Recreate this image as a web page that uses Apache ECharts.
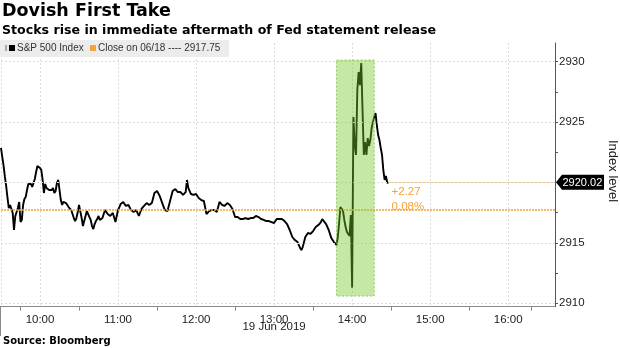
<!DOCTYPE html>
<html>
<head>
<meta charset="utf-8">
<script src="https://cdn.jsdelivr.net/npm/echarts@6/dist/echarts.min.js"></script>
<style>
  html, body { margin: 0; padding: 0; background: #fff; }
  #chart { width: 620px; height: 348px; }
</style>
</head>
<body>
<div id="chart"></div>
<script>
// S&P 500 intraday, 19 Jun 2019 (FOMC statement at 14:00)
const day = '2019-06-19 ';
const times = [
  '09:30','09:31','09:32','09:33','09:34','09:35','09:36','09:37','09:38','09:39',
  '09:40','09:41','09:42','09:43','09:44','09:45','09:46','09:47','09:48','09:49',
  '09:50','09:51','09:52','09:53','09:54','09:55','09:56','09:57','09:58','09:59',
  '10:00','10:01','10:02','10:03','10:04','10:05','10:06','10:07','10:08','10:09',
  '10:10','10:11','10:12','10:13','10:14','10:15','10:16','10:17','10:18','10:19',
  '10:20','10:21','10:22','10:23','10:24','10:25','10:26','10:27','10:28','10:29',
  '10:30','10:31','10:32','10:33','10:34','10:35','10:36','10:37','10:38','10:39',
  '10:40','10:41','10:42','10:43','10:44','10:45',
  '10:46','10:48','10:50','10:52','10:54','10:56','10:58','11:00','11:02','11:04',
  '11:06','11:08','11:10','11:12','11:14','11:16','11:18','11:20','11:22','11:24',
  '11:26','11:28','11:30','11:32','11:34','11:36','11:38','11:40','11:42','11:44',
  '11:46','11:48','11:50','11:52','11:53','11:54','11:56','11:58','12:00','12:02',
  '12:04','12:06','12:08','12:10','12:12','12:14','12:16','12:18','12:20','12:22',
  '12:24','12:26','12:28','12:30','12:32','12:34','12:36','12:38','12:40','12:42',
  '12:44','12:46','12:48','12:50','12:52','12:54','12:56','12:58','13:00','13:02',
  '13:04','13:06','13:08','13:10','13:12','13:14','13:16','13:18','13:20','13:21',
  '13:22','13:24','13:26','13:28','13:30','13:32','13:34','13:36','13:37','13:38',
  '13:40','13:42','13:44','13:46','13:48','13:49','13:50','13:51','13:52','13:53',
  '13:54','13:55','13:56','13:57','13:58','13:59','14:00','14:01','14:02','14:03',
  '14:04','14:05','14:06','14:07','14:08','14:09','14:10','14:11','14:12','14:13',
  '14:14','14:15','14:16','14:17','14:18','14:19','14:20','14:21','14:22','14:23',
  '14:24','14:25','14:26','14:27','14:28'
];
const spx = [
  2922.86,2922.11,2921.37,2920.46,2919.71,2918.72,2917.89,2918.14,2918.30,2917.48,
  2916.07,2917.23,2917.23,2917.89,2918.39,2916.73,2916.90,2918.14,2918.63,2918.80,
  2919.38,2919.88,2919.96,2919.88,2919.63,2919.96,2920.29,2920.87,2921.37,2921.53,
  2921.20,2921.03,2920.21,2919.13,2919.88,2919.55,2919.63,2919.38,2919.38,2919.38,
  2919.55,2919.13,2919.30,2919.96,2920.21,2919.38,2918.55,2918.14,2918.39,2918.55,
  2918.30,2918.39,2917.97,2918.06,2917.72,2917.39,2917.06,2916.81,2917.06,2917.56,
  2918.14,2918.06,2917.06,2916.40,2916.48,2917.23,2917.64,2917.39,2917.14,2916.90,
  2916.40,2916.15,2916.56,2916.81,2916.98,2917.23,
  2916.90,2917.06,2917.72,2917.39,2917.23,2917.48,2916.73,2917.72,2918.22,2918.39,
  2918.06,2918.14,2917.72,2917.56,2917.72,2917.23,2917.81,2918.06,2918.30,2918.14,
  2918.30,2919.13,2919.30,2918.89,2918.30,2917.72,2917.64,2918.47,2919.30,2919.46,
  2919.21,2919.21,2918.97,2919.21,2920.21,2919.55,2919.05,2918.97,2919.05,2918.72,
  2918.55,2918.47,2917.39,2917.64,2917.72,2917.72,2917.56,2918.39,2918.14,2918.06,
  2918.30,2918.14,2917.81,2917.14,2917.14,2916.98,2916.98,2917.06,2916.98,2917.06,
  2917.06,2917.23,2917.14,2916.98,2916.90,2916.81,2916.81,2916.73,2916.65,2916.98,
  2916.98,2916.98,2916.81,2916.56,2916.07,2915.49,2915.24,2915.07,2914.58,2914.41,
  2914.66,2915.49,2915.82,2915.74,2915.98,2916.31,2916.48,2916.73,2916.98,2916.98,
  2916.56,2916.07,2915.40,2915.07,2914.83,2915.49,2916.65,2917.97,2918.06,2917.64,
  2916.90,2916.31,2915.90,2915.74,2915.57,2917.31,2911.30,2925.42,2923.10,2922.28,
  2927.66,2929.15,2928.06,2929.89,2926.00,2922.28,2923.35,2922.28,2923.68,2923.02,
  2923.52,2924.51,2925.01,2925.42,2925.75,2924.76,2923.93,2923.52,2922.86,2922.28,
  2921.03,2920.21,2920.54,2919.96,2920.02
];
const prevClose = 2917.75;
const prevCloseDate = '06/18';
const yTicks = [2910, 2915, 2920, 2925, 2930];
const yMinorTicks = [2912.5, 2917.5, 2922.5, 2927.5];
const fedWindow = ['13:48', '14:17'];
const fedBand = [2910.6, 2930.14];

const ORANGE = '#f2a33a';
const FONT = 'Liberation Sans, Arial, sans-serif';
const HEAD_FONT = 'DejaVu Sans, Liberation Sans, sans-serif';

const chart = echarts.init(document.getElementById('chart'), null, { renderer: 'canvas' });
const seriesData = times.map((t, i) => [day + t, spx[i]]);
const lastT = day + times[times.length - 1];
const last = spx[spx.length - 1];
const xMax = day + '16:36';
const change = last - prevClose;
const pct = change / prevClose * 100;

chart.setOption({
  animation: false,
  grid: { left: 1, right: 65, top: 43, bottom: 41.3, containLabel: false },
  xAxis: {
    type: 'time',
    min: day + '09:30',
    max: xMax,
    minInterval: 3600 * 1000,
    maxInterval: 3600 * 1000,
    axisLine: { show: true, lineStyle: { color: '#8a8a8a', width: 1 } },
    axisTick: { show: false },
    minorTick: { show: true, splitNumber: 2, length: 4, lineStyle: { color: '#8a8a8a' } },
    axisLabel: {
      formatter: '{HH}:{mm}', color: '#222', fontSize: 11.5, fontFamily: FONT, margin: 7,
      showMinLabel: false, showMaxLabel: false
    },
    splitLine: { show: true, lineStyle: { color: '#dcdcdc', type: [2, 2] } }
  },
  yAxis: {
    type: 'value',
    position: 'right',
    min: 2909.72,
    max: 2931.55,
    scale: true,
    axisLine: { show: true, lineStyle: { color: '#555', width: 1 } },
    axisTick: { show: true, customValues: yTicks.concat(yMinorTicks), length: 3, lineStyle: { color: '#555' } },
    axisLabel: { customValues: yTicks, formatter: v => String(v), color: '#222', fontSize: 11.5, fontFamily: FONT, margin: 4 },
    splitLine: { show: false }
  },
  series: [
    {
      name: 'S&P 500 Index',
      type: 'line',
      data: seriesData,
      showSymbol: false,
      symbol: 'none',
      lineStyle: { color: '#000', width: 1.9 },
      z: 3,
      markLine: {
        silent: true,
        symbol: 'none',
        label: { show: false },
        data: [
          [{ coord: [lastT, last] }, { coord: [xMax, last] }]
        ],
        lineStyle: { color: '#f7c27e', type: 'solid', width: 1 }
      },
      markPoint: {
        silent: true,
        symbol: 'circle',
        symbolSize: 0,
        data: [{ coord: [lastT, last] }],
        label: {
          show: true,
          position: [3, 2],
          align: 'left',
          verticalAlign: 'top',
          color: ORANGE,
          fontSize: 11.5,
          fontFamily: FONT,
          lineHeight: 15,
          formatter: () => (change >= 0 ? '+' : '') + change.toFixed(2) + '\n' + pct.toFixed(2) + '%'
        }
      }
    },
    {
      // horizontal grid and previous close reference
      type: 'line',
      data: [],
      silent: true,
      z: 1,
      markLine: {
        silent: true,
        symbol: 'none',
        label: { show: false },
        data: yTicks.map(v => ({ yAxis: v, lineStyle: { color: '#dcdcdc', type: [2, 2], width: 1 } }))
          .concat([{ yAxis: prevClose, lineStyle: { color: ORANGE, type: [2, 1], width: 1.5 } }])
      }
    }
  ]
});

const toPx = (t, v) => chart.convertToPixel({ gridIndex: 0 }, [t, v]);

// statement release window, laid over the price line
const boxTL = toPx(day + fedWindow[0], fedBand[1]);
const boxBR = toPx(day + fedWindow[1], fedBand[0]);

// current-level tag on the value axis
const tagY = toPx(lastT, last)[1];
const axisX = toPx(xMax, last)[0];

chart.setOption({
  graphic: [
    {
      type: 'rect', z: 100,
      shape: { x: boxTL[0], y: boxTL[1], width: boxBR[0] - boxTL[0], height: boxBR[1] - boxTL[1] },
      style: { fill: 'rgba(118, 200, 40, 0.42)', stroke: 'rgba(120, 190, 60, 0.75)', lineWidth: 1, lineDash: [2, 2] }
    },
    { type: 'text', left: 2, top: 2, style: { text: 'Dovish First Take', font: 'bold 17.5px ' + HEAD_FONT, fill: '#000' } },
    { type: 'text', left: 2, top: 24, style: { text: 'Stocks rise in immediate aftermath of Fed statement release', font: 'bold 12.6px ' + HEAD_FONT, fill: '#000' } },
    // legend box
    { type: 'rect', z: 110, shape: { x: 0, y: 40, width: 229, height: 17 }, style: { fill: '#ececec' } },
    { type: 'rect', z: 111, shape: { x: 5, y: 45, width: 2, height: 6 }, style: { fill: '#aaa' } },
    { type: 'rect', z: 111, shape: { x: 9, y: 45, width: 6, height: 6 }, style: { fill: '#000' } },
    { type: 'text', z: 111, x: 17, y: 48.5, style: { text: 'S&P 500 Index', font: '10px ' + FONT, fill: '#333', verticalAlign: 'middle' } },
    { type: 'rect', z: 111, shape: { x: 90, y: 45, width: 6, height: 6 }, style: { fill: ORANGE } },
    { type: 'text', z: 111, x: 98, y: 48.5, style: { text: 'Close on ' + prevCloseDate + ' ---- ' + prevClose.toFixed(2), font: '10px ' + FONT, fill: '#333', verticalAlign: 'middle' } },
    // value tag
    {
      type: 'group', x: axisX, y: tagY, z: 120,
      children: [
        { type: 'polygon', z: 120, shape: { points: [[1, 0], [7, -7.5], [49, -7.5], [49, 7.5], [7, 7.5]] }, style: { fill: '#000' } },
        { type: 'text', z: 121, x: 7.5, y: 0.5, style: { text: last.toFixed(2), font: '11px ' + FONT, fill: '#fff', verticalAlign: 'middle' } }
      ]
    },
    // axis name
    { type: 'text', x: 619, y: 140, rotation: -Math.PI / 2, style: { text: 'Index level', font: '13px ' + FONT, fill: '#222' } },
    // left edge divider under the time axis
    { type: 'line', shape: { x1: 0.5, y1: 306, x2: 0.5, y2: 336 }, style: { stroke: '#8a8a8a', lineWidth: 1 } },
    // date line
    { type: 'text', x: toPx(day + '13:00', last)[0], y: 327, style: { text: '19 Jun 2019', font: '11.5px ' + FONT, fill: '#222', align: 'center', verticalAlign: 'middle' } },
    { type: 'text', left: 3, top: 336, style: { text: 'Source: Bloomberg', font: 'bold 10px ' + HEAD_FONT, fill: '#000' } }
  ]
});
</script>
</body>
</html>
